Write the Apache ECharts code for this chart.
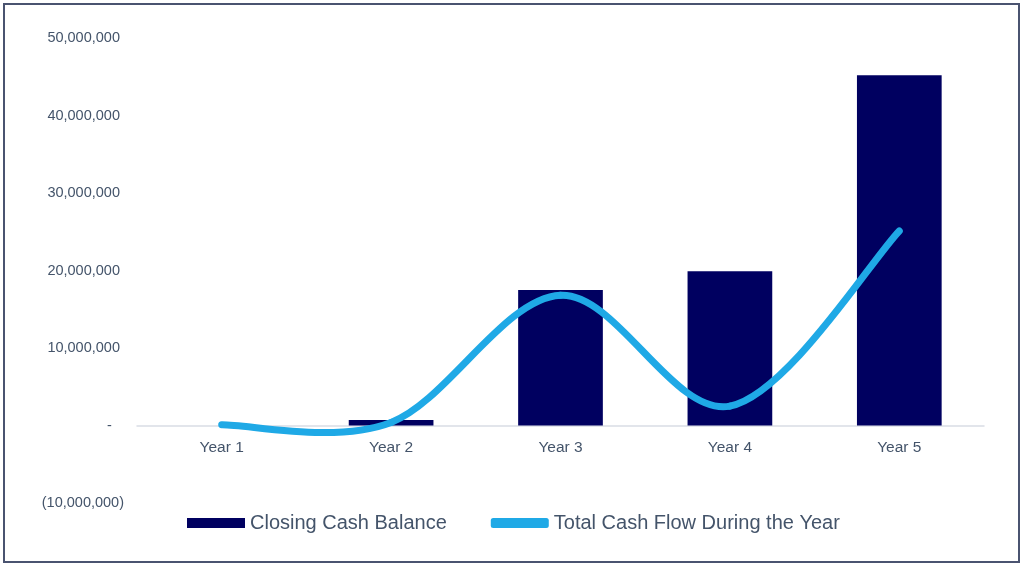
<!DOCTYPE html>
<html>
<head>
<meta charset="utf-8">
<title>Cash Balance</title>
<script src="https://cdn.jsdelivr.net/npm/echarts@6/dist/echarts.min.js"></script>
<style>
  html, body { margin: 0; padding: 0; background: #ffffff; }
  #chart { width: 1024px; height: 567px; }
</style>
</head>
<body>
<div id="chart"></div>
<script>
// data
var years = ["Year 1", "Year 2", "Year 3", "Year 4", "Year 5"];
var closingBalance = [0, 700000, 17500000, 19900000, 45200000];
var totalCashFlow = [100000, 400000, 16800000, 2500000, 25100000];

var yMin = -10000000;
var yMax = 50000000;

var textColor = "#44546a";
var lineColor = "#1fa9e6";

var gridTop = 38;
var gridBottom = 64;
var gridHeight = 567 - gridTop - gridBottom;
// x axis sits on the zero line, labels with it
var xOffset = -gridHeight * (0 - yMin) / (yMax - yMin);

function fmtAccounting(v) {
    if (v === 0) return "-   ";
    var s = Math.abs(v).toLocaleString("en-US");
    return v < 0 ? "(" + s + ")" : s + " ";
}

// excel-like smoothed line: catmull-rom segments through the data points
function renderSmooth(params, api) {
    var i = params.dataIndex;
    var n = totalCashFlow.length;
    if (i >= n - 1) return null;
    var pt = function (k) {
        k = Math.max(0, Math.min(n - 1, k));
        return api.coord([k, totalCashFlow[k]]);
    };
    var p0 = pt(i - 1), p1 = pt(i), p2 = pt(i + 1), p3 = pt(i + 2);
    return {
        type: "bezierCurve",
        shape: {
            x1: p1[0], y1: p1[1],
            x2: p2[0], y2: p2[1],
            cpx1: p1[0] + (p2[0] - p0[0]) / 6,
            cpy1: p1[1] + (p2[1] - p0[1]) / 6,
            cpx2: p2[0] - (p3[0] - p1[0]) / 6,
            cpy2: p2[1] - (p3[1] - p1[1]) / 6,
        },
        style: { stroke: lineColor, lineWidth: 7, fill: null, lineCap: "round" },
    };
}

var chart = echarts.init(document.getElementById("chart"));

var option = {
    backgroundColor: "#ffffff",
    animation: false,
    textStyle: { fontFamily: "Liberation Sans, Arial, sans-serif" },
    graphic: [
        {
            type: "rect",
            shape: { x: 4, y: 4, width: 1015, height: 558 },
            style: { fill: "none", stroke: "#4a5370", lineWidth: 2 },
        },
    ],
    grid: {
        left: 137,
        right: 40,
        top: gridTop,
        bottom: gridBottom,
    },
    legend: {
        top: 508,
        left: 182,
        itemGap: 44,
        itemWidth: 58,
        itemHeight: 10,
        textStyle: { color: textColor, fontSize: 20 },
        data: [
            { name: "Closing Cash Balance", icon: "rect" },
            { name: "Total Cash Flow During the Year", icon: "roundRect" },
        ],
    },
    xAxis: {
        type: "category",
        data: years,
        offset: xOffset,
        axisLine: { onZero: false, lineStyle: { color: "#d9dde5", width: 1.5 } },
        axisTick: { show: false },
        axisLabel: { color: textColor, fontSize: 15.5, margin: 14 },
    },
    yAxis: {
        type: "value",
        min: yMin,
        max: yMax,
        interval: 10000000,
        splitLine: { show: false },
        axisLine: { show: false },
        axisTick: { show: false },
        axisLabel: {
            color: textColor,
            fontSize: 14.5,
            margin: 13,
            formatter: fmtAccounting,
        },
    },
    series: [
        {
            name: "Closing Cash Balance",
            type: "bar",
            data: closingBalance,
            barWidth: "50%",
            itemStyle: { color: "#000060" },
        },
        {
            name: "Total Cash Flow During the Year",
            type: "custom",
            data: totalCashFlow.map(function (v, i) { return [i, v]; }),
            encode: { x: 0, y: 1 },
            renderItem: renderSmooth,
            itemStyle: { color: lineColor },
            z: 3,
        },
    ],
};

chart.setOption(option);
</script>
</body>
</html>
